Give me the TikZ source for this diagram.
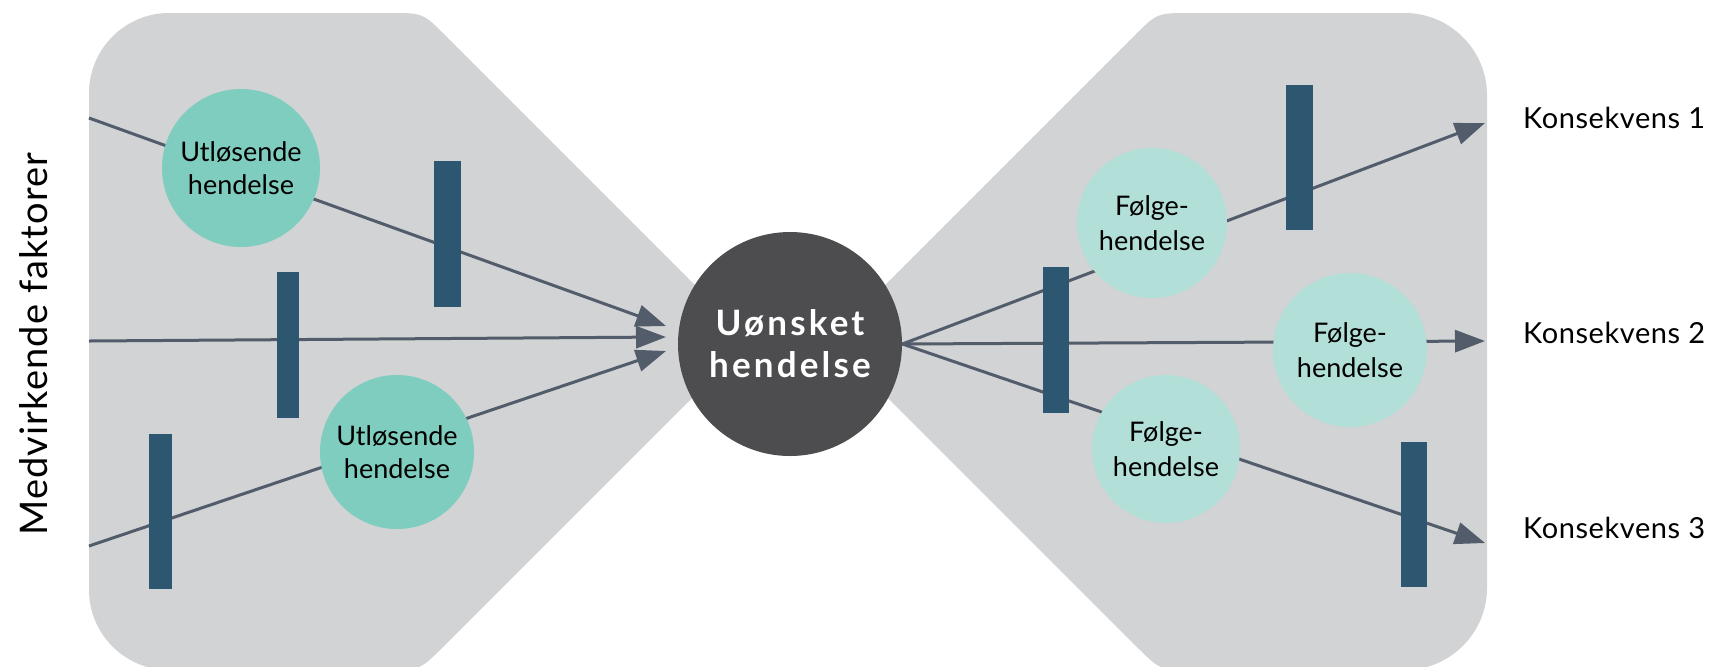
\documentclass[tikz,border=0pt]{standalone}
\usepackage{fontspec}
\setmainfont{Lato}
\newfontfamily\widefont{Lato}[LetterSpace=9]
\newfontfamily\lblfont{Lato}[LetterSpace=2]
\newfontfamily\sidefont{Lato}[LetterSpace=3]
\usetikzlibrary{arrows.meta}
\definecolor{bowgray}{HTML}{D1D3D4}
\definecolor{linecol}{HTML}{535C6B}
\definecolor{barcol}{HTML}{2D5670}
\definecolor{trigcol}{HTML}{7FCDBF}
\definecolor{conscol}{HTML}{B2DFD8}
\definecolor{topcol}{HTML}{4D4D4F}
\begin{document}
\begin{tikzpicture}[x=0.5pt,y=-0.5pt,
  flow/.style={draw=linecol,line width=1.5pt},
  flowarr/.style={flow,-{Triangle[length=15pt,width=11pt]}},
  barrier/.style={rectangle,fill=barcol,inner sep=0pt},
  evt/.style={circle,inner sep=0pt,align=center,text=black,
    font=\fontsize{13.5}{16.5}\selectfont},
  trig/.style={evt,fill=trigcol},
  cons/.style={evt,fill=conscol,font=\fontsize{13.5}{17.5}\selectfont},
  lbl/.style={anchor=base west,text=black,font=\lblfont\fontsize{14.5}{17}\selectfont}
]
\useasboundingbox (0,0) rectangle (1709,666);
\clip (0,0) rectangle (1709,666);
% left wing
\fill[bowgray] (750,340) -- (446.3,36.3) .. controls (423,13) .. (390,13)
  -- (169,13) .. controls (125,13) and (89,49) .. (89,93)
  -- (89,590) .. controls (89,634) and (125,670) .. (169,670)
  -- (387,670) .. controls (420,670) .. (443.3,646.7) -- cycle;
% right wing
\fill[bowgray] (830,340) -- (1133.7,36.3) .. controls (1157,13) .. (1190,13)
  -- (1405,13) .. controls (1450,13) and (1487,50) .. (1487,95)
  -- (1487,588) .. controls (1487,633) and (1450,670) .. (1405,670)
  -- (1193,670) .. controls (1160,670) .. (1136.7,646.7) -- cycle;
% top event
\node[circle,fill=topcol,minimum size=112pt,inner sep=0pt,align=center,text=white,
  font=\widefont\bfseries\fontsize{17.5}{21}\selectfont] (C) at (790,344) {Uønsket\\hendelse};
% connector ends
\coordinate (s1) at (89,118);
\coordinate (s2) at (89,341);
\coordinate (s3) at (89,546);
\coordinate (t1) at (666,326);
\coordinate (t2) at (666,337);
\coordinate (t3) at (666,351);
\coordinate (e1) at (1485,123);
\coordinate (e2) at (1485,341);
\coordinate (e3) at (1485,543);
\draw[flowarr] (s1) -- (t1);
\draw[flowarr] (s2) -- (t2);
\draw[flowarr] (s3) -- (t3);
\draw[flowarr] (C.east) -- (e1);
\draw[flowarr] (C.east) -- (e2);
\draw[flowarr] (C.east) -- (e3);
% events
\node[trig,minimum size=79pt] (u1) at (241,168) {Utløsende\\hendelse};
\node[trig,minimum size=77pt] (u2) at (397,452) {Utløsende\\hendelse};
\node[cons,minimum size=75pt] (f1) at (1152,223) {Følge-\\hendelse};
\node[cons,minimum size=77pt] (f2) at (1350,350) {Følge-\\hendelse};
\node[cons,minimum size=74pt] (f3) at (1166,449) {Følge-\\hendelse};
% barriers
\node[barrier,minimum width=13.5pt,minimum height=73pt] (b1) at (447.5,234) {};
\node[barrier,minimum width=11pt,minimum height=73pt] (b2) at (288,345) {};
\node[barrier,minimum width=11.5pt,minimum height=77.5pt] (b3) at (160.5,511.5) {};
\node[barrier,minimum width=13.5pt,minimum height=72.5pt] (b4) at (1299.5,157.5) {};
\node[barrier,minimum width=13pt,minimum height=73pt] (b5) at (1056,340) {};
\node[barrier,minimum width=13pt,minimum height=72.5pt] (b6) at (1414,514.5) {};
% labels
\node[lbl] (k1) at (1516,128) {Konsekvens 1};
\node[lbl] (k2) at (1516,343) {Konsekvens 2};
\node[lbl] (k3) at (1516,538) {Konsekvens 3};
\node[rotate=90,anchor=base,text=black,font=\sidefont\fontsize{19}{21}\selectfont] (mf) at (47,344) {Medvirkende faktorer};
\end{tikzpicture}
\end{document}
